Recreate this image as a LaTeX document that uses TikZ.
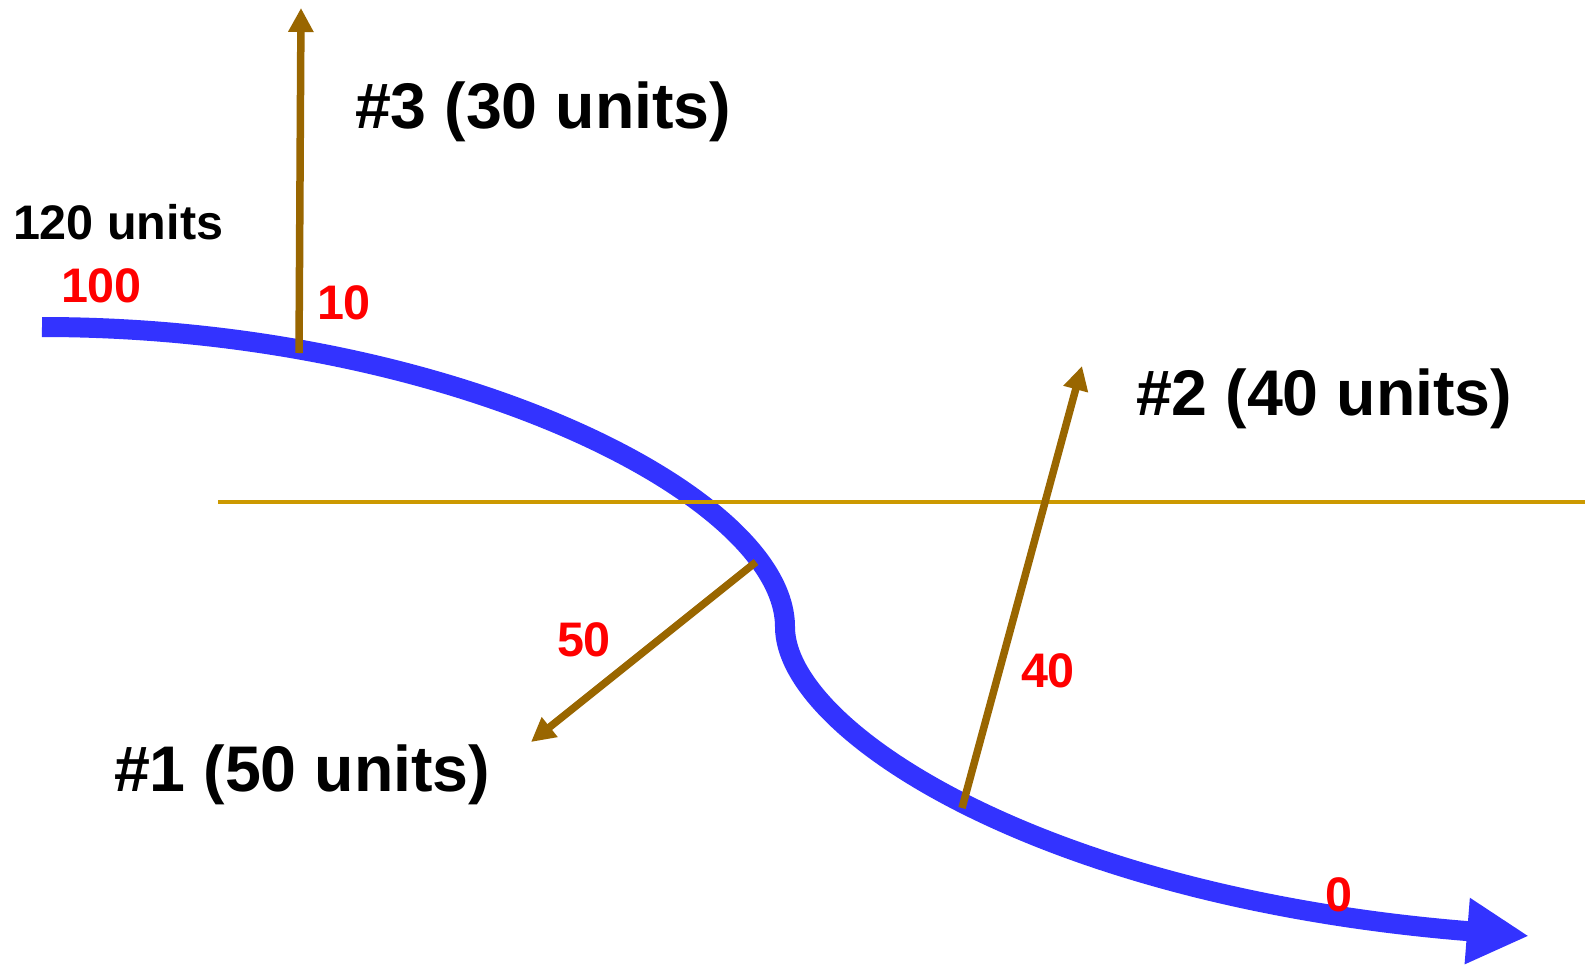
\documentclass[tikz,border=0pt]{standalone}
\usepackage{fontspec}
\setmainfont{Liberation Sans}
\usetikzlibrary{arrows.meta}
\definecolor{flowblue}{RGB}{51,51,255}
\definecolor{brn}{RGB}{153,102,0}
\definecolor{goldline}{RGB}{204,153,0}
\definecolor{lblred}{RGB}{255,0,0}
\begin{document}
\begin{tikzpicture}[x=1pt,y=-1pt,
 flow/.style={draw=flowblue, line width=20pt, -{Triangle[length=62pt,width=62pt]}},
 outflow/.style={draw=brn, line width=7.5pt, -{Triangle[length=24pt,width=24pt]}},
 level/.style={draw=goldline, line width=3.5pt},
 big/.style={anchor=base west, inner sep=0pt, outer sep=0pt, font=\fontsize{64.5}{70}\selectfont\bfseries},
 mid/.style={anchor=base west, inner sep=0pt, outer sep=0pt, font=\fontsize{48.5}{54}\selectfont\bfseries},
 num/.style={mid, text=lblred}]
\useasboundingbox (0,0) rectangle (1587,964);
% main flow
\coordinate (start) at (42,327);
\coordinate (turn) at (785,627);
\coordinate (end) at (1529,936);
\draw[flow] (start) .. controls (450,327) and (785,495) .. (turn)
  .. controls (785,730) and (1040,897) .. (end);
% level line
\coordinate (lvlL) at (218,502);
\coordinate (lvlR) at (1585,502);
\draw[level] (lvlL) -- (lvlR);
% outflows
\coordinate (o3s) at (299,353);
\coordinate (o3e) at (301,8);
\coordinate (o1s) at (756,562);
\coordinate (o1e) at (531,742);
\coordinate (o2s) at (962,808);
\coordinate (o2e) at (1082,366);
\draw[outflow] (o3s) -- (o3e);
\draw[outflow] (o1s) -- (o1e);
\draw[outflow] (o2s) -- (o2e);
% labels
\node[big] (t3) at (355,128) {\#3 (30 units)};
\node[big] (t2) at (1136,415) {\#2 (40 units)};
\node[big] (t1) at (114,791) {\#1 (50 units)};
\node[mid] (t120) at (13,239) {120 units};
\node[num] (n100) at (61,302) {100};
\node[num] (n10) at (317,319) {10};
\node[num] (n50) at (557,656) {50};
\node[num] (n40) at (1021,687) {40};
\node[num] (n0) at (1325,911) {0};
\end{tikzpicture}
\end{document}
